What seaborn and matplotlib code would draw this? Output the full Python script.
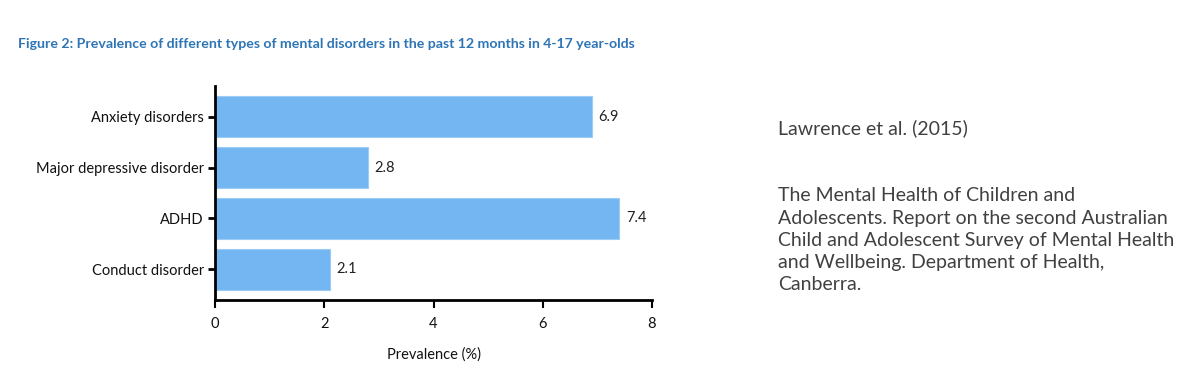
import matplotlib

matplotlib.use("Agg")

import matplotlib.pyplot as plt
import pandas as pd
import seaborn as sns

disorders = ["Anxiety disorders", "Major depressive disorder", "ADHD", "Conduct disorder"]
prevalence = [6.9, 2.8, 7.4, 2.1]
x_ticks = [0, 2, 4, 6, 8]

title = "Figure 2: Prevalence of different types of mental disorders in the past 12 months in 4-17 year-olds"
citation = "Lawrence et al. (2015)"
reference = (
    "The Mental Health of Children and\n"
    "Adolescents. Report on the second Australian\n"
    "Child and Adolescent Survey of Mental Health\n"
    "and Wellbeing. Department of Health,\n"
    "Canberra."
)

sns.set_theme(style="white")
plt.rcParams["font.family"] = ["Lato", "DejaVu Sans"]

df = pd.DataFrame({"disorder": disorders, "prevalence": prevalence})

fig = plt.figure(figsize=(12.04, 3.86), dpi=100)
ax = fig.add_axes([0.1786, 0.2228, 0.3629, 0.5544])

sns.barplot(
    data=df,
    x="prevalence",
    y="disorder",
    orient="h",
    color="#74b6f2",
    saturation=1,
    width=0.82,
    edgecolor="#9ccbf5",
    linewidth=0.8,
    ax=ax,
)

for i, value in enumerate(prevalence):
    ax.text(value + 0.12, i, f"{value}", va="center", ha="left", fontsize=10.5, color="#222222")

ax.set_xlim(0, 8)
ax.set_ylim(3.6, -0.6)
ax.set_xticks(x_ticks)
ax.set_xlabel("Prevalence (%)", fontsize=10.5, labelpad=12, color="#111111")
ax.set_ylabel("")
for side in ["top", "right"]:
    ax.spines[side].set_visible(False)
for side in ["left", "bottom"]:
    ax.spines[side].set_linewidth(2)
    ax.spines[side].set_color("black")
ax.tick_params(axis="y", left=True, length=5, width=2, labelsize=10.5, pad=3, colors="black")
ax.tick_params(axis="x", bottom=True, length=6, width=1.5, labelsize=10.5, pad=6, colors="black")
for label in ax.get_yticklabels() + ax.get_xticklabels():
    label.set_color("#111111")

fig.text(0.015, 0.886, title, fontsize=10.2, fontweight="bold", color="#2e75b6", va="center", ha="left")
fig.text(0.646, 0.668, citation, fontsize=14, color="#404040", va="center", ha="left")
fig.text(0.646, 0.515, reference, fontsize=14, color="#404040", va="top", ha="left", linespacing=1.38)

fig.savefig("out.png", dpi=100)
